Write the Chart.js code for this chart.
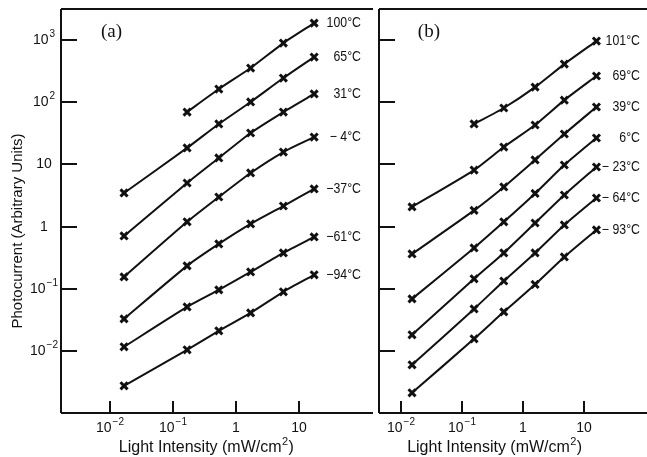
<!DOCTYPE html>
<html>
<head>
<meta charset="utf-8">
<script src="https://cdn.jsdelivr.net/npm/chart.js@4.4.1/dist/chart.umd.min.js"></script>
<style>
  html,body{margin:0;padding:0;background:#fff;}
  #wrap{position:relative;width:647px;height:457px;overflow:hidden;}
  canvas{position:absolute;top:0;}
  #cA{left:0;}
  #cB{left:371px;}
</style>
</head>
<body>
<div id="wrap">
  <canvas id="cA" width="373" height="457"></canvas>
  <canvas id="cB" width="276" height="457"></canvas>
</div>
<script>
// ---- data (light intensity mW/cm2, photocurrent arb. units) ----
const xA = [0.0168, 0.169, 0.54, 1.73, 5.74, 17.7];
const tempsA = ['100°C', '65°C', '31°C', '\u2212 4°C', '\u221237°C', '\u221261°C', '\u221294°C'];
const a100 = [null, 69.5, 163, 355, 895, 1875];
const a65  = [3.47, 18.4, 44.7, 101, 245, 533];
const a31  = [0.706, 5.02, 12.7, 32, 69.5, 136];
const aM4  = [0.155, 1.19, 2.99, 7.28, 15.8, 27.5];
const aM37 = [0.0327, 0.233, 0.525, 1.10, 2.14, 4.03];
const aM61 = [0.0116, 0.0509, 0.0957, 0.186, 0.376, 0.68];
const aM94 = [0.00274, 0.0104, 0.021, 0.0408, 0.089, 0.167];

const xB = [0.0153, 0.158, 0.484, 1.57, 4.72, 15.8];
const tempsB = ['101°C', '69°C', '39°C', '6°C', '\u2212 23°C', '\u2212 64°C', '\u2212 93°C'];
const b101 = [null, 44.7, 80.8, 175, 411, 964];
const b69  = [2.07, 8.1, 19.0, 43.0, 108, 264];
const b39  = [0.362, 1.82, 4.34, 11.8, 30.8, 83.8];
const b6   = [0.0686, 0.453, 1.19, 3.41, 9.77, 26.6];
const bM23 = [0.0181, 0.144, 0.376, 1.14, 3.22, 9.08];
const bM64 = [0.00596, 0.0473, 0.133, 0.376, 1.06, 2.88];
const bM93 = [0.00211, 0.0156, 0.0424, 0.117, 0.324, 0.881];

const yTicks = [1e3, 1e2, 10, 1, 0.1, 0.01];
const yTickExp = ['3', '2', '', '', '-1', '-2'];
const yTickBase = ['10', '10', '10', '1', '10', '10'];
const xTicks = [0.01, 0.1, 1, 10];
const xTickExp = ['-2', '-1', '', ''];
const xTickBase = ['10', '10', '1', '10'];

const FONT = '"Liberation Sans", Arial, sans-serif';
const INK = '#111';

// helpers
function toPts(xs, ys){
  const out = [];
  xs.forEach((x,i)=>{ if(ys[i]!=null) out.push({x, y:ys[i]}); });
  return out;
}
function sup(e){ return e.replace('-', '\u2212'); }
function drawPow(ctx, base, exp, cx, cy){
  ctx.font = '14px ' + FONT;
  const wb = ctx.measureText(base).width;
  ctx.font = '10px ' + FONT;
  const we = exp ? ctx.measureText(sup(exp)).width + 1 : 0;
  const x0 = cx - (wb + we)/2;
  ctx.textAlign = 'left'; ctx.textBaseline = 'middle';
  ctx.font = '14px ' + FONT;
  ctx.fillText(base, x0, cy);
  if(exp){ ctx.font = '10px ' + FONT; ctx.fillText(sup(exp), x0 + wb + 1, cy - 6); }
}

// frame, inward ticks, tick labels, curve labels and titles
const Frame = {
  id: 'frame',
  afterDatasetsDraw(chart, args, opts){
    const {ctx, chartArea:{left,right,top,bottom}, scales:{x,y}} = chart;
    ctx.save();
    ctx.strokeStyle = INK; ctx.fillStyle = INK; ctx.lineWidth = 2;
    ctx.beginPath();
    ctx.moveTo(left, top); ctx.lineTo(chart.width, top);
    ctx.moveTo(left, top); ctx.lineTo(left, bottom);
    ctx.moveTo(left, bottom); ctx.lineTo(chart.width, bottom);
    ctx.stroke();
    // y ticks (inward)
    yTicks.forEach((v,i)=>{
      const py = Math.round(y.getPixelForValue(v));
      ctx.beginPath(); ctx.moveTo(left, py); ctx.lineTo(left + 16, py); ctx.stroke();
      if(opts.yLabels) drawPow(ctx, yTickBase[i], yTickExp[i], left - 17, py);
    });
    // x ticks (inward)
    xTicks.forEach((v,i)=>{
      const px = Math.round(x.getPixelForValue(v));
      ctx.beginPath(); ctx.moveTo(px, bottom); ctx.lineTo(px, bottom - 12); ctx.stroke();
      drawPow(ctx, xTickBase[i], xTickExp[i], px, bottom + 15);
    });
    // x title
    ctx.font = '16px ' + FONT; ctx.textAlign = 'center'; ctx.textBaseline = 'middle';
    const cx = (x.getPixelForValue(0.01) + x.getPixelForValue(10))/2;
    ctx.fillText('Light Intensity (mW/cm', cx - 4, bottom + 35);
    const w = ctx.measureText('Light Intensity (mW/cm').width;
    ctx.font = '11px ' + FONT; ctx.textAlign = 'left';
    ctx.fillText('2', cx - 4 + w/2 + 0.5, bottom + 29);
    ctx.font = '16px ' + FONT;
    ctx.fillText(')', cx - 4 + w/2 + 7, bottom + 35);
    // panel letter
    ctx.font = '19px "Liberation Serif", "DejaVu Serif", serif';
    ctx.textAlign = 'left';
    ctx.fillText(opts.letter, x.getPixelForValue(opts.letterX), 32);
    // curve labels at the last point of each curve (narrow face, like the original)
    ctx.font = '14px ' + FONT; ctx.textAlign = 'right';
    chart.data.datasets.forEach(ds=>{
      const last = ds.data[ds.data.length-1];
      ctx.save();
      ctx.translate(right + opts.labelShift, y.getPixelForValue(last.y));
      ctx.scale(0.88, 1);
      ctx.fillText(ds.label, 0, 0);
      ctx.restore();
    });
    // y title
    if(opts.yTitle){
      ctx.save();
      ctx.translate(18, (top + bottom)/2 + 20);
      ctx.rotate(-Math.PI/2);
      ctx.font = '15px ' + FONT; ctx.textAlign = 'center';
      ctx.fillText('Photocurrent (Arbitrary Units)', 0, 0);
      ctx.restore();
    }
    ctx.restore();
  }
};

function makeChart(id, xs, temps, series, xmin, xmax, pad, frameOpts){
  const datasets = series.map((s,i)=>({
    label: temps[i],
    data: toPts(xs, s),
    borderColor: INK, borderWidth: 2,
    pointStyle: 'crossRot', pointRadius: 5, pointBorderWidth: 3,
    pointBorderColor: INK, tension: 0.2, fill: false
  }));
  return new Chart(document.getElementById(id), {
    type: 'line',
    data: { datasets },
    options: {
      responsive: false, animation: false,
      layout: { padding: pad },
      plugins: { legend:{display:false}, tooltip:{enabled:false}, frame: frameOpts },
      scales: {
        x: { type:'logarithmic', min:xmin, max:xmax, display:false },
        y: { type:'logarithmic', min:0.001, max:3162, display:false }
      }
    },
    plugins: [Frame]
  });
}

makeChart('cA', xA, tempsA, [a100, a65, a31, aM4, aM37, aM61, aM94],
  0.00167, 114, {left:61, right:1, top:9, bottom:44},
  {yLabels:true, yTitle:true, letter:'(a)', letterX:0.0072, labelShift:-4});
makeChart('cB', xB, tempsB, [b101, b69, b39, b6, bM23, bM64, bM93],
  0.00441, 78.5, {left:1, right:0, top:9, bottom:44},
  {yLabels:false, yTitle:false, letter:'(b)', letterX:0.019, labelShift:1});
</script>
</body>
</html>
